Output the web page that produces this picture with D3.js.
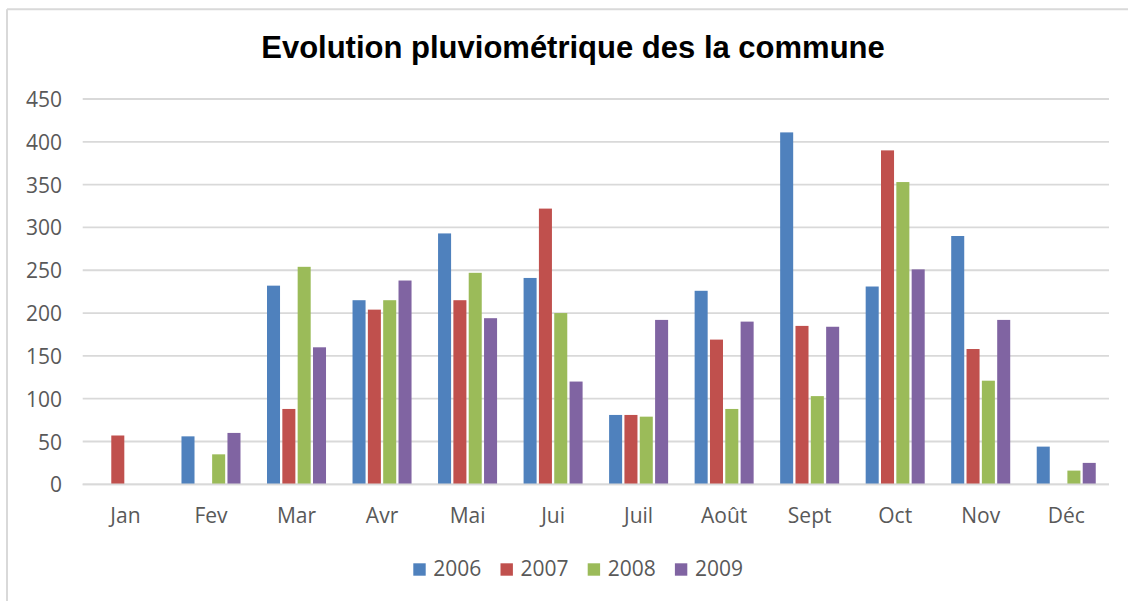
<!DOCTYPE html>
<html><head><meta charset="utf-8">
<script src="https://cdn.jsdelivr.net/npm/d3@7"></script>
<style>
html,body{margin:0;padding:0;background:#fff;}
svg{display:block;}
</style></head>
<body>
<svg id="chart" width="1128" height="601"></svg>
<script>
const title = "Evolution pluviométrique des la commune";
const months = ["Jan","Fev","Mar","Avr","Mai","Jui","Juil","Août","Sept","Oct","Nov","Déc"];
const seriesNames = ["2006","2007","2008","2009"];
const values2006 = [null,56,232,215,293,241,81,226,411,231,290,44];
const values2007 = [57,null,88,204,215,322,81,169,185,390,158,null];
const values2008 = [null,35,254,215,247,200,79,88,103,353,121,16];
const values2009 = [null,60,160,238,194,120,192,190,184,251,192,25];
const yTicks = [0,50,100,150,200,250,300,350,400,450];
const colors = ["#4F81BD","#C0504D","#9BBB59","#8064A2"];

const seriesValues = [values2006, values2007, values2008, values2009];
const svg = d3.select("#chart");
const font = "'Open Sans', sans-serif";
const textColor = "#595959";

// border (top & left visible)
svg.append("line").attr("x1",7).attr("x2",1128).attr("y1",9.3).attr("y2",9.3)
  .attr("stroke","#d9d9d9").attr("stroke-width",2);
svg.append("line").attr("x1",7).attr("x2",7).attr("y1",9.3).attr("y2",601)
  .attr("stroke","#d9d9d9").attr("stroke-width",2);

const plotLeft = 82.7, plotRight = 1109, plotTop = 99, plotBottom = 484.3;

const y = d3.scaleLinear().domain([0,450]).range([plotBottom, plotTop]);
const x0 = d3.scaleBand().domain(months).range([plotLeft,plotRight]).paddingInner(0.31).paddingOuter(0.155);
const x1 = d3.scaleBand().domain(seriesNames).range([0, x0.bandwidth()]).paddingInner(0.15).paddingOuter(0);

// gridlines
svg.append("g").selectAll("line").data(yTicks).join("line")
  .attr("x1",plotLeft).attr("x2",plotRight)
  .attr("y1",d=>y(d)).attr("y2",d=>y(d))
  .attr("stroke","#d9d9d9").attr("stroke-width",1.8);

// y axis labels
const yAxis = d3.axisLeft(y).tickValues(yTicks).tickSize(0).tickPadding(0);
const yg = svg.append("g").attr("transform",`translate(62,0)`).call(yAxis);
yg.select(".domain").remove();
yg.selectAll("text").attr("font-family",font).attr("font-size",21).attr("fill",textColor).attr("dy","0.36em");

// bars
const data = months.map((m,i)=>({month:m, vals: seriesNames.map((s,j)=>({s, v: seriesValues[j][i], c: colors[j]}))}));
const groups = svg.append("g").selectAll("g").data(data).join("g")
  .attr("transform",d=>`translate(${x0(d.month)},0)`);
groups.selectAll("rect").data(d=>d.vals.filter(e=>e.v!=null)).join("rect")
  .attr("x",d=>x1(d.s)).attr("width",x1.bandwidth())
  .attr("y",d=>y(d.v)).attr("height",d=>y(0)-y(d.v))
  .attr("fill",d=>d.c);

// baseline
svg.append("line").attr("x1",plotLeft).attr("x2",plotRight).attr("y1",y(0)).attr("y2",y(0))
  .attr("stroke","#d9d9d9").attr("stroke-width",1.8);

// x axis labels
const xAxis = d3.axisBottom(x0).tickSize(0).tickPadding(0);
const xg = svg.append("g").attr("transform",`translate(0,523)`).call(xAxis);
xg.select(".domain").remove();
xg.selectAll("text").attr("font-family",font).attr("font-size",21).attr("fill",textColor).attr("dy",0);

// title
svg.append("text").attr("x",573).attr("y",58.3).attr("text-anchor","middle")
  .attr("font-family","'Liberation Sans', Arial, sans-serif").attr("font-weight","bold")
  .attr("font-size",31).attr("fill","#000").text(title);

// legend
const legend = svg.append("g").selectAll("g").data(seriesNames).join("g")
  .attr("transform",(d,i)=>`translate(${413.3 + i*87.2},0)`);
legend.append("rect").attr("x",0).attr("y",563.3).attr("width",12.4).attr("height",12.4)
  .attr("fill",(d,i)=>colors[i]);
legend.append("text").attr("x",20).attr("y",576).attr("font-family",font).attr("font-size",21)
  .attr("fill",textColor).text(d=>d);
</script>
</body></html>
